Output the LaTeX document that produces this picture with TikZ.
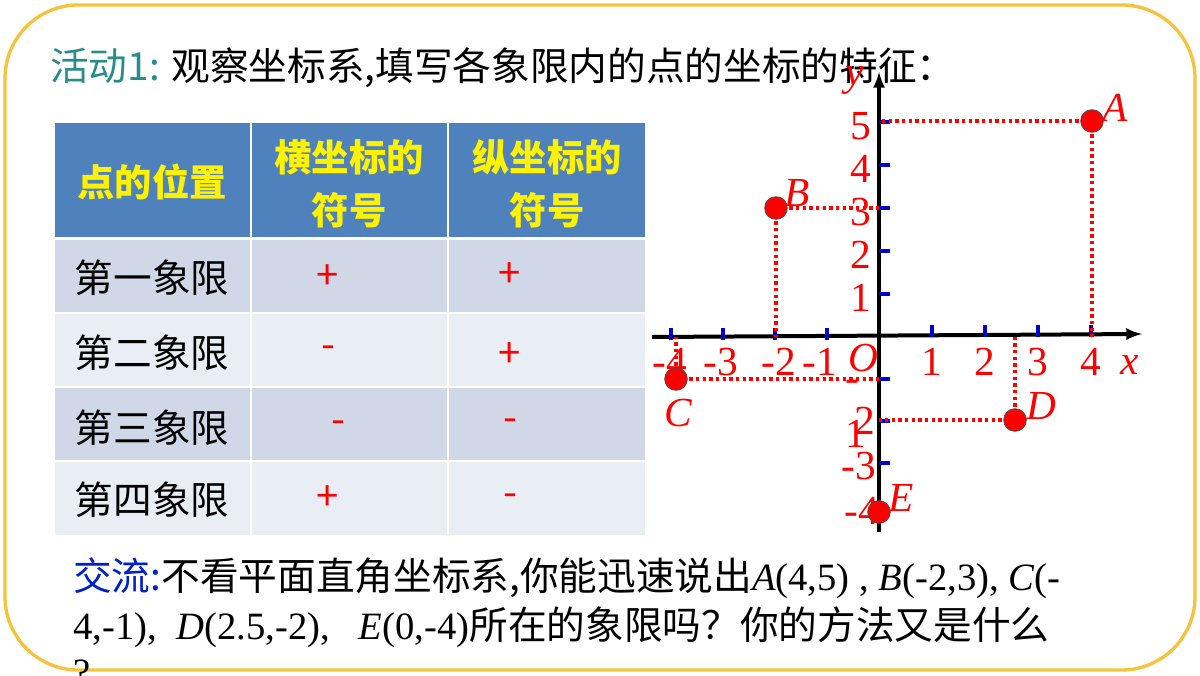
\documentclass[tikz,border=0pt]{standalone}
\usepackage{fontspec}
\setmainfont{Liberation Serif}
\newfontfamily\cjk{Noto Sans CJK SC}
\begin{document}
\begin{tikzpicture}[x=0.75pt,y=-0.75pt,
  cell/.style={minimum width=195*0.75pt,inner sep=0,align=center,font=\cjk\fontsize{29}{34}\selectfont},
  hcell/.style={cell,text=yellow,font=\cjk\bfseries\fontsize{28}{40}\selectfont},
  sgn/.style={text=red,font=\cjk\fontsize{30}{34}\selectfont},
  lab/.style={text=red,font=\fontsize{31}{34}\selectfont},
  pt/.style={circle,fill=red,draw=black!70,line width=0.6pt,minimum size=17,inner sep=0},
  dot/.style={red,line width=3pt,dash pattern=on 2.5pt off 2.5pt},
  tick/.style={blue!80!black,line width=3pt}]
\useasboundingbox (0,0) rectangle (1200,675);
\fill[white] (0,0) rectangle (1200,675);
\draw[draw={rgb,255:red,245;green,196;blue,60},line width=2.5pt,rounded corners=55] (5,5) rectangle (1195,670);
% title
\node[anchor=west,inner sep=0,font=\cjk\fontsize{29}{34}\selectfont] (title) at (50,68) {\textcolor[RGB]{40,140,140}{活动1:} 观察坐标系,填写各象限内的点的坐标的特征：};
% table
\definecolor{hb}{RGB}{79,129,189}\definecolor{r1}{RGB}{208,216,232}\definecolor{r2}{RGB}{233,237,244}
\fill[hb] (55,123) rectangle (250,237); \fill[hb] (252,123) rectangle (447,237); \fill[hb] (449,123) rectangle (645,237);
\foreach \y/\h/\c in {240/312/r1,314/386/r2,388/460/r1,462/535/r2}{
 \fill[\c] (55,\y) rectangle (250,\h); \fill[\c] (252,\y) rectangle (447,\h); \fill[\c] (449,\y) rectangle (645,\h);}
\node[hcell] (h1) at (152,182) {点的位置};
\node[hcell] (h2) at (349,184) {横坐标的\\符号};
\node[hcell] (h3) at (547,184) {纵坐标的\\符号};
\node[cell] (q1) at (152,278) {第一象限};
\node[cell] (q2) at (152,353) {第二象限};
\node[cell] (q3) at (152,428) {第三象限};
\node[cell] (q4) at (152,500) {第四象限};
\node[sgn] (a1) at (328,277) {+}; \node[sgn] (b1) at (510,275) {+};
\node[sgn] (a2) at (328,352) {-}; \node[sgn] (b2) at (510,355) {+};
\node[sgn] (a3) at (338,427) {-}; \node[sgn] (b3) at (510,425) {-};
\node[sgn] (a4) at (328,498) {+}; \node[sgn] (b4) at (510,500) {-};
% axes
\coordinate (xs) at (652,337); \coordinate (xe) at (1142,334);
\coordinate (ys) at (879,532); \coordinate (ye) at (879,72);
\draw[line width=3pt,-latex] (xs) -- (xe);
\draw[line width=3pt,-latex] (ys) -- (ye);
\foreach \i in {-4,-3,-2,-1} \draw[tick] (879+52*\i,328) -- (879+52*\i,340);
\foreach \i in {1,2,3,4} \draw[tick] (879+53*\i,325) -- (879+53*\i,337);
\foreach \i in {1,...,5} \draw[tick] (879,337-43*\i) -- (890,337-43*\i);
\foreach \i in {1,2,3} \draw[tick] (879,337+42*\i) -- (890,337+42*\i);
\foreach \i/\x in {-4/670,-3/721,-2/779,-1/820} \node[lab] at (\x,362) {\i};
\foreach \i in {1,2,3,4} \node[lab] at (879+53*\i,362) {\i};
\node[lab] at (863,358) {\textit{O}};
\node[lab] at (1130,365) {\textit{x}};
\node[lab] at (855,80) {\textit{y}};
\foreach \i in {1,...,5} \node[lab] at (861,337-43*\i+4) {\i};
\node[lab] at (852,386) {-};
\node[lab] at (856,434) {1};\node[lab] at (865,421) {2};
\node[lab] at (859,466) {-3};
\node[lab] at (862,511) {-4};
% points
\coordinate (Ay) at (879,121); \coordinate (Ax) at (1092,337);
\coordinate (By) at (879,208); \coordinate (Bx) at (776,337);
\coordinate (Cy) at (879,379); \coordinate (Cx) at (676,337);
\coordinate (Dy) at (879,420); \coordinate (Dx) at (1015,337);
\coordinate (Ac) at (1092,121); \coordinate (Bc) at (776,208);
\coordinate (Cc) at (676,379); \coordinate (Dc) at (1015,420);
\draw[dot] (Ac) -- (Ay); \draw[dot] (Ac) -- (Ax);
\draw[dot] (Bc) -- (By); \draw[dot] (Bc) -- (Bx);
\draw[dot] (Cc) -- (Cy); \draw[dot] (Cc) -- (Cx);
\draw[dot] (Dc) -- (Dy); \draw[dot] (Dc) -- (Dx);
\node[pt] (A) at (Ac) {}; \node[lab,anchor=west] at (1098,108) {\textit{A}};
\node[pt] (B) at (Bc) {}; \node[lab,anchor=west] at (780,193) {\textit{B}};
\node[pt] (C) at (Cc) {}; \node[lab] at (678,413) {\textit{C}};
\node[pt] (D) at (Dc) {}; \node[lab,anchor=west] at (1022,406) {\textit{D}};
\node[pt] (E) at (879,512) {}; \node[lab,anchor=west] at (884,498) {\textit{E}};
% bottom text
\node[anchor=west,inner sep=0,font=\cjk\fontsize{29}{34}\selectfont] (l1) at (73,578) {\textcolor[RGB]{0,32,200}{交流:}不看平面直角坐标系,你能迅速说出{\rmfamily\itshape A}{\rmfamily(4,5) , \textit{B}(-2,3), \textit{C}(-}};
\node[anchor=west,inner sep=0,font=\cjk\fontsize{29}{34}\selectfont] (l2) at (73,627) {{\rmfamily 4,-1),\ \ \textit{D}(2.5,-2),\ \ \ \textit{E}(0,-4)}所在的象限吗？你的方法又是什么};
\node[anchor=north west,inner sep=0,font=\rmfamily\fontsize{29}{34}\selectfont] (l3) at (73,660) {?};
\end{tikzpicture}
\end{document}
